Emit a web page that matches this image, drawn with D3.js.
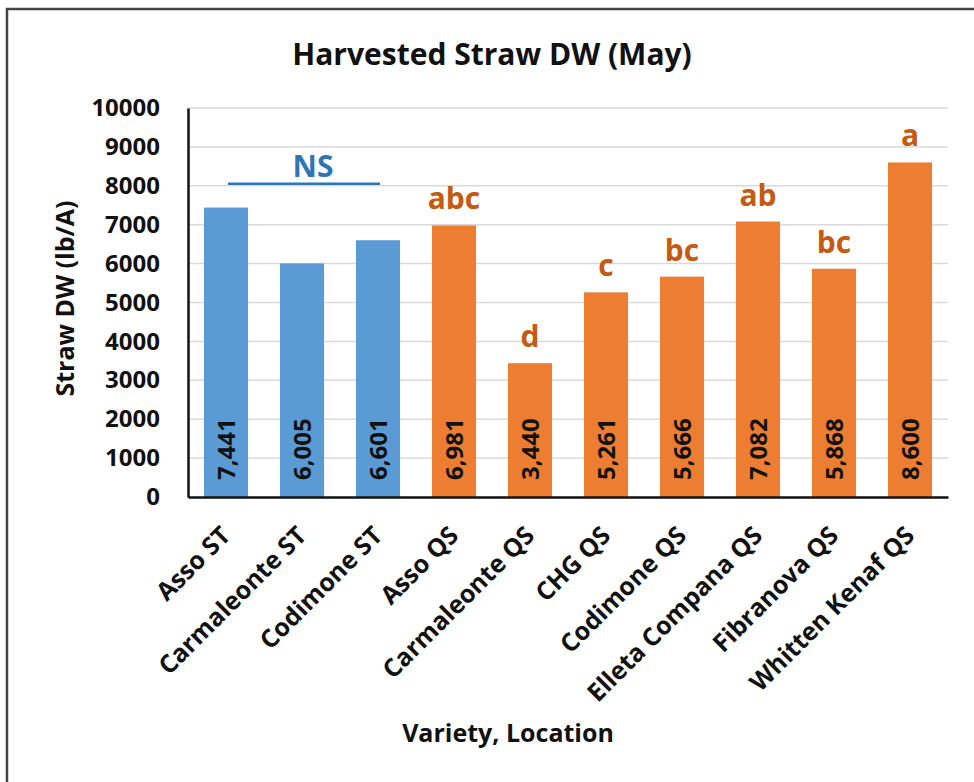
<!DOCTYPE html>
<html>
<head>
<meta charset="utf-8">
<script src="https://cdn.jsdelivr.net/npm/d3@7"></script>
<style>
  html, body { margin: 0; padding: 0; background: #fff; }
  svg { display: block; font-family: "Open Sans", "Noto Sans", sans-serif; }
</style>
</head>
<body>
<div id="chart"></div>
<script>
const categories = ["Asso ST", "Carmaleonte ST", "Codimone ST", "Asso QS", "Carmaleonte QS",
  "CHG QS", "Codimone QS", "Elleta Compana QS", "Fibranova QS", "Whitten Kenaf QS"];
const values = [7441, 6005, 6601, 6981, 3440, 5261, 5666, 7082, 5868, 8600];
const locations = ["ST", "ST", "ST", "QS", "QS", "QS", "QS", "QS", "QS", "QS"];
const letters = ["", "", "", "abc", "d", "c", "bc", "ab", "bc", "a"];
const yTicks = [0, 1000, 2000, 3000, 4000, 5000, 6000, 7000, 8000, 9000, 10000];
const nsGroup = ["Asso ST", "Codimone ST"];
const nsLevel = 8050;

const width = 974, height = 782;
const margin = { top: 108, right: 26, bottom: 285, left: 188 };
const innerWidth = width - margin.left - margin.right;
const innerHeight = height - margin.top - margin.bottom;

const colors = { ST: "#5B9BD5", QS: "#ED7D31" };

const svg = d3.select("#chart").append("svg")
  .attr("width", width).attr("height", height);

// outer frame (only top and left edges are inside the picture)
svg.append("path")
  .attr("d", `M7,${height} L7,9 L${width},9`)
  .attr("fill", "none").attr("stroke", "#444").attr("stroke-width", 2.5);

svg.append("text")
  .attr("x", 492).attr("y", 65)
  .attr("text-anchor", "middle")
  .attr("font-size", 30).attr("font-weight", 700).attr("fill", "#111")
  .text("Harvested Straw DW (May)");

const g = svg.append("g").attr("transform", `translate(${margin.left},${margin.top})`);

const x = d3.scaleBand().domain(categories).range([0, innerWidth]).paddingInner(0.42).paddingOuter(0.21);
const y = d3.scaleLinear().domain([0, 10000]).range([innerHeight, 0]);

// gridlines
g.append("g").selectAll("line")
  .data(yTicks.slice(1))
  .join("line")
  .attr("x1", 0).attr("x2", innerWidth)
  .attr("y1", d => y(d)).attr("y2", d => y(d))
  .attr("stroke", "#d9d9d9").attr("stroke-width", 1.5);

// bars
g.append("g").selectAll("rect")
  .data(categories)
  .join("rect")
  .attr("x", d => x(d))
  .attr("y", (d, i) => y(values[i]))
  .attr("width", x.bandwidth())
  .attr("height", (d, i) => innerHeight - y(values[i]))
  .attr("fill", (d, i) => colors[locations[i]]);

// value labels inside bars
g.append("g").selectAll("text")
  .data(categories)
  .join("text")
  .attr("transform", d => `translate(${x(d) + x.bandwidth() / 2 + 8.5},${innerHeight - 17}) rotate(-90)`)
  .attr("font-size", 24).attr("font-weight", 700).attr("fill", "#111")
  .text((d, i) => d3.format(",")(values[i]));

// significance letters
g.append("g").selectAll("text")
  .data(categories)
  .join("text")
  .attr("x", d => x(d) + x.bandwidth() / 2)
  .attr("y", (d, i) => y(values[i]) - 16)
  .attr("text-anchor", "middle")
  .attr("font-size", 30).attr("font-weight", 700).attr("fill", "#C55A11")
  .text((d, i) => letters[i]);

// NS bracket
const nsX1 = x(nsGroup[0]) + x.bandwidth() / 2 + 2;
const nsX2 = x(nsGroup[1]) + x.bandwidth() / 2 + 2;
g.append("line")
  .attr("x1", nsX1).attr("x2", nsX2)
  .attr("y1", y(nsLevel)).attr("y2", y(nsLevel))
  .attr("stroke", "#2E75B6").attr("stroke-width", 2.5);
g.append("text")
  .attr("x", (nsX1 + nsX2) / 2 + 9).attr("y", y(nsLevel) - 7)
  .attr("text-anchor", "middle")
  .attr("font-size", 30).attr("font-weight", 700).attr("fill", "#2E75B6")
  .text("NS");

// axes
const yAxis = g.append("g")
  .call(d3.axisLeft(y).tickValues(yTicks).tickFormat(d3.format("d")).tickSize(0).tickPadding(28));
yAxis.select(".domain").attr("stroke", "#111").attr("stroke-width", 2.5);
yAxis.selectAll("text").attr("font-size", 24).attr("font-weight", 700).attr("fill", "#111")
  .attr("font-family", "'Open Sans', sans-serif");

const xAxis = g.append("g")
  .attr("transform", `translate(0,${innerHeight})`)
  .call(d3.axisBottom(x).tickSize(0).tickPadding(0));
xAxis.select(".domain").attr("stroke", "#111").attr("stroke-width", 2.5);
xAxis.selectAll("text")
  .attr("font-size", 25).attr("font-weight", 700).attr("fill", "#111")
  .attr("font-family", "'Open Sans', sans-serif")
  .attr("text-anchor", "end")
  .attr("dy", 0)
  .attr("transform", "translate(6,40) rotate(-45)");

// axis titles
svg.append("text")
  .attr("transform", `translate(74,${margin.top + innerHeight / 2 - 4}) rotate(-90)`)
  .attr("text-anchor", "middle")
  .attr("font-size", 25).attr("font-weight", 700).attr("fill", "#111")
  .text("Straw DW (lb/A)");

svg.append("text")
  .attr("x", 508).attr("y", 742)
  .attr("text-anchor", "middle")
  .attr("font-size", 25).attr("font-weight", 700).attr("fill", "#111")
  .text("Variety, Location");
</script>
</body>
</html>
